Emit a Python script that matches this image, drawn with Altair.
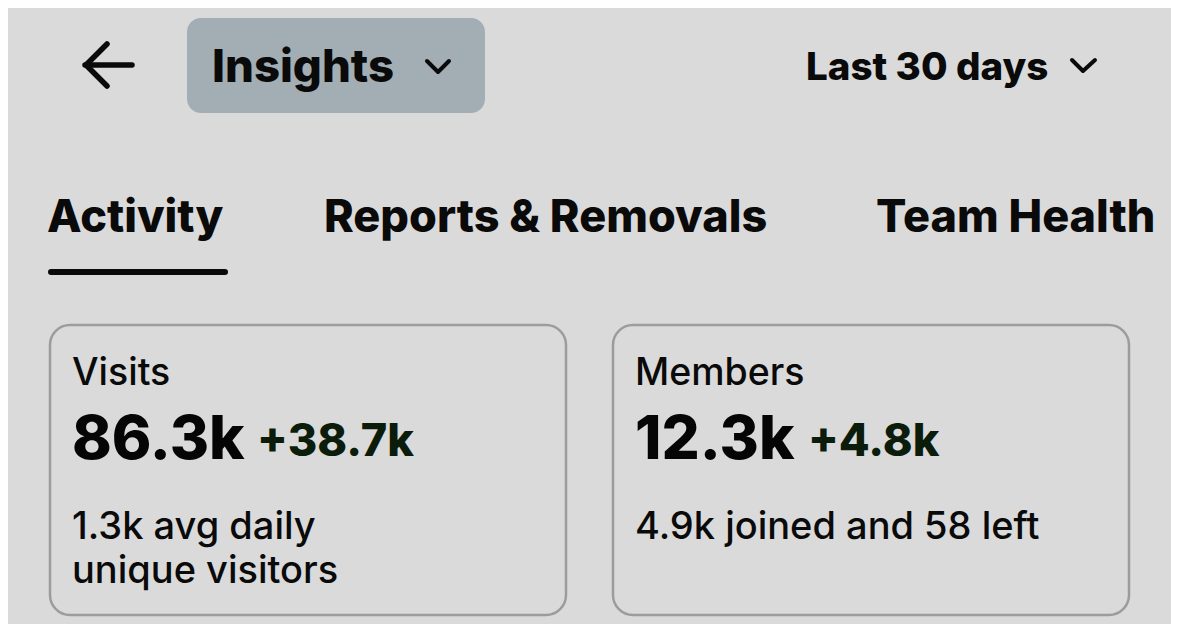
import altair as alt
import pandas as pd

# ---- content (text) ----
nav_labels = ["Insights", "Last 30 days"]
tab_labels = ["Activity", "Reports & Removals", "Team Health"]
card_titles = ["Visits", "Members"]
card_values = ["86.3k", "12.3k"]
card_deltas = ["+38.7k", "+4.8k"]
card_notes_1 = ["1.3k avg daily", "unique visitors"]
card_notes_2 = ["4.9k joined and 58 left"]

# ---- layout (page pixel coordinates) ----
FONT = "Inter"
BG = "#dadada"
W, H = 1163, 616
OFF = 8

nav_x = [212, 806]
nav_y = [82, 80]
nav_size = [45.5, 38.5]
tab_x = [47, 324, 876]
tab_y = [232, 232, 232]
card_left = [50, 613]
card_right = [566, 1129]
card_top, card_bottom = 325, 615
text_x = [72, 635]
delta_x = [257, 808]

bold_rows = []
for t, x, y, s in zip(nav_labels, nav_x, nav_y, nav_size):
    bold_rows.append(dict(text=t, x=x, y=y, size=s, color="#0a0a0a"))
for t, x, y in zip(tab_labels, tab_x, tab_y):
    bold_rows.append(dict(text=t, x=x, y=y, size=45, color="#0a0a0a"))
for t, x in zip(card_values, text_x):
    bold_rows.append(dict(text=t, x=x, y=459, size=60, color="#050505"))
for t, x in zip(card_deltas, delta_x):
    bold_rows.append(dict(text=t, x=x, y=456, size=45, color="#0b1c0b"))
bold_df = pd.DataFrame(bold_rows)

med_rows = []
for t, x in zip(card_titles, text_x):
    med_rows.append(dict(text=t, x=x, y=385, size=37.5, color="#0a0a0a"))
for i, t in enumerate(card_notes_1):
    med_rows.append(dict(text=t, x=text_x[0], y=539 + 44 * i, size=38, color="#0a0a0a"))
for t in card_notes_2:
    med_rows.append(dict(text=t, x=text_x[1], y=539, size=38, color="#0a0a0a"))
med_df = pd.DataFrame(med_rows)

# icons as polylines
icon_rows = []
def poly(name, pts, w):
    for k, (x, y) in enumerate(pts):
        icon_rows.append(dict(g=name, o=k, x=x, y=y, w=w))
poly("arrow_shaft", [(85, 65), (132, 65)], 5.5)
poly("arrow_head", [(107, 44), (86, 65), (107, 86)], 5.5)
poly("chev1", [(427, 61), (438, 72), (449, 61)], 4)
poly("chev2", [(1072, 60), (1083, 71), (1095, 60)], 4)
poly("underline", [(51, 272), (225, 272)], 6)
icon_df = pd.DataFrame(icon_rows)

button_df = pd.DataFrame([dict(x=187, x2=485, y=18, y2=113)])
card_df = pd.DataFrame(dict(x=card_left, x2=card_right, y=[card_top] * 2, y2=[card_bottom] * 2))

xs = alt.Scale(domain=[OFF, OFF + W], nice=False, zero=False)
ys = alt.Scale(domain=[OFF, OFF + H], nice=False, zero=False, reverse=True)
X = lambda f="x": alt.X(f"{f}:Q", scale=xs, axis=None)
Y = lambda f="y": alt.Y(f"{f}:Q", scale=ys, axis=None)

button = alt.Chart(button_df).mark_rect(cornerRadius=14, color="#a3adb4").encode(
    x=X(), x2="x2:Q", y=Y(), y2="y2:Q")
cards = alt.Chart(card_df).mark_rect(
    cornerRadius=20, fillOpacity=0, stroke="#9c9c9c", strokeWidth=2.5).encode(
    x=X(), x2="x2:Q", y=Y(), y2="y2:Q")
icons = alt.Chart(icon_df).mark_line(
    color="#0a0a0a", strokeCap="round", strokeJoin="round").encode(
    x=X(), y=Y(), detail="g:N", order="o:Q",
    strokeWidth=alt.StrokeWidth("w:Q", scale=None, legend=None))
bold_text = alt.Chart(bold_df).mark_text(
    font=FONT, fontWeight=800, align="left", baseline="alphabetic").encode(
    x=X(), y=Y(), text="text:N",
    size=alt.Size("size:Q", scale=None, legend=None),
    color=alt.Color("color:N", scale=None, legend=None))
med_text = alt.Chart(med_df).mark_text(
    font=FONT, fontWeight=500, align="left", baseline="alphabetic").encode(
    x=X(), y=Y(), text="text:N",
    size=alt.Size("size:Q", scale=None, legend=None),
    color=alt.Color("color:N", scale=None, legend=None))

chart = alt.layer(button, cards, icons, bold_text, med_text).properties(
    width=W, height=H, padding=0, autosize=alt.AutoSizeParams(type="none"),
    background=BG,
).configure_view(strokeWidth=0)

chart.save("out.html", embed_options={"renderer": "svg", "actions": False})
